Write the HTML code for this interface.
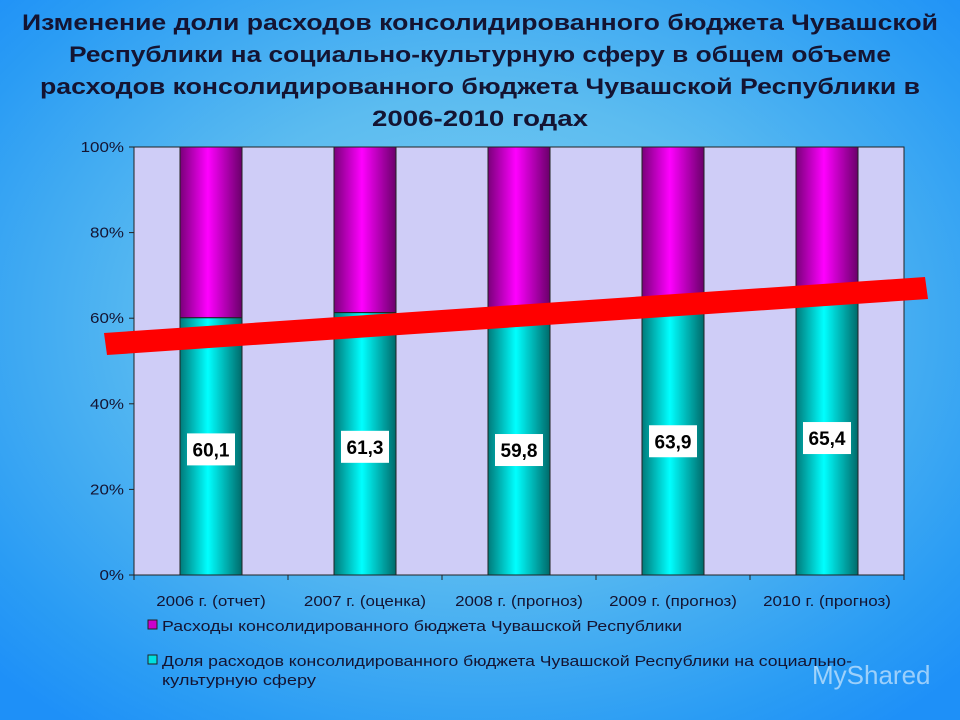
<!DOCTYPE html>
<html><head><meta charset="utf-8"><style>
html,body{margin:0;padding:0;width:960px;height:720px;overflow:hidden}
body{background:radial-gradient(ellipse 70% 70% at 50% 45%,#7fd0f4 0%,#5cbcf0 45%,#2a9cf4 85%,#1e90f8 100%);font-family:"Liberation Sans",sans-serif}
svg{position:absolute;left:0;top:0}
</style></head><body>
<svg width="960" height="720">
<defs>
<linearGradient id="mag" x1="0" x2="1"><stop offset="0" stop-color="#7a007a"/><stop offset="0.45" stop-color="#ff00ff"/><stop offset="1" stop-color="#6a006a"/></linearGradient>
<linearGradient id="teal" x1="0" x2="1"><stop offset="0" stop-color="#007a7a"/><stop offset="0.45" stop-color="#00ffff"/><stop offset="1" stop-color="#006a6a"/></linearGradient>
</defs>
<g font-weight="bold" font-size="22" fill="#141432" text-anchor="middle" font-family="Liberation Sans, sans-serif">
<text x="480" y="30" textLength="916" lengthAdjust="spacingAndGlyphs">Изменение доли расходов консолидированного бюджета Чувашской</text>
<text x="480" y="62" textLength="822" lengthAdjust="spacingAndGlyphs">Республики на социально-культурную сферу в общем объеме</text>
<text x="480" y="94" textLength="880" lengthAdjust="spacingAndGlyphs">расходов консолидированного бюджета Чувашской Республики в</text>
<text x="480" y="126" textLength="216" lengthAdjust="spacingAndGlyphs">2006-2010 годах</text>
</g>
<rect x="134" y="147" width="770" height="428" fill="#cfcdf7" stroke="#222" stroke-width="1"/>
<g id="yaxis"></g>
<g id="bars"></g>
<g id="xaxis"></g>
<polygon points="104,333 925,277 928,299 107,355" fill="#ff0000"/>
<g id="labels"></g>
<g font-size="15" fill="#141432">
<g>
<rect x="148" y="620" width="9" height="9" fill="#cc00cc" stroke="#222"/>
<text x="162" y="631" textLength="520" lengthAdjust="spacingAndGlyphs">Расходы консолидированного бюджета Чувашской Республики</text></g>
<g>
<rect x="148" y="655" width="9" height="9" fill="#00e0e0" stroke="#222"/>
<text x="162" y="666" textLength="690" lengthAdjust="spacingAndGlyphs">Доля расходов консолидированного бюджета Чувашской Республики на социально-</text>
<text x="162" y="685" textLength="154" lengthAdjust="spacingAndGlyphs">культурную сферу</text></g>
</g>
<text x="812" y="684" font-size="26" fill="#ffffff" fill-opacity="0.55">MyShared</text>
</svg>
<script>
const categories=["2006 г. (отчет)","2007 г. (оценка)","2008 г. (прогноз)","2009 г. (прогноз)","2010 г. (прогноз)"];
const socialShare=[60.1,61.3,59.8,63.9,65.4];
const valueLabels=["60,1","61,3","59,8","63,9","65,4"];
const yTicks=[0,20,40,60,80,100];
const NS="http://www.w3.org/2000/svg";
const X0=134,W=770,Y0=575,H=428,bw=62;
const cw=W/categories.length;
const y=v=>Y0-v/100*H;
const xc=i=>X0+cw*(i+0.5);
function mk(t,a,p){const e=document.createElementNS(NS,t);for(const k in a)e.setAttribute(k,a[k]);p.appendChild(e);return e;}
const ya=document.getElementById('yaxis'),ba=document.getElementById('bars'),xa=document.getElementById('xaxis'),la=document.getElementById('labels');
const stretch=[];
yTicks.forEach(t=>{
 const l=mk('line',{x1:X0-5,x2:X0,y1:y(t),y2:y(t),stroke:'#222'},ya);
 
 
 const tx=mk('text',{x:X0-10,y:y(t)+5,'text-anchor':'end','font-size':'15',fill:'#141432'},ya);
 
 
 tx.textContent=t+'%';
 stretch.push(tx);
});
for(let i=0;i<=categories.length;i++){
 const l=mk('line',{x1:X0+cw*i,x2:X0+cw*i,y1:Y0,y2:Y0+5,stroke:'#222'},xa);
 
 
}
categories.forEach((c,i)=>{
 const x=xc(i)-bw/2,v=socialShare[i];
 const top=mk('rect',{x:x,y:y(100),width:bw,height:y(v)-y(100),fill:'url(#mag)',stroke:'#222','stroke-width':1},ba);
 
 
 const bot=mk('rect',{x:x,y:y(v),width:bw,height:Y0-y(v),fill:'url(#teal)',stroke:'#222','stroke-width':1},ba);
 
 
 const tx=mk('text',{x:xc(i),y:Y0+31,'text-anchor':'middle','font-size':'15',fill:'#141432'},xa);
 
 
 tx.textContent=c;
 stretch.push(tx);
 const cy=(y(v)+Y0)/2+3;
 const g=mk('g',{},la);
 
 
 mk('rect',{x:xc(i)-24,y:cy-16,width:48,height:32,fill:'#fff'},g);
 const lt=mk('text',{x:xc(i),y:cy+7,'text-anchor':'middle','font-size':'19','font-weight':'bold',fill:'#000'},g);
 lt.textContent=valueLabels[i];
});
stretch.forEach(t=>{const w=t.getComputedTextLength();t.setAttribute('textLength',w*1.13);t.setAttribute('lengthAdjust','spacingAndGlyphs');});
</script>
</body></html>
